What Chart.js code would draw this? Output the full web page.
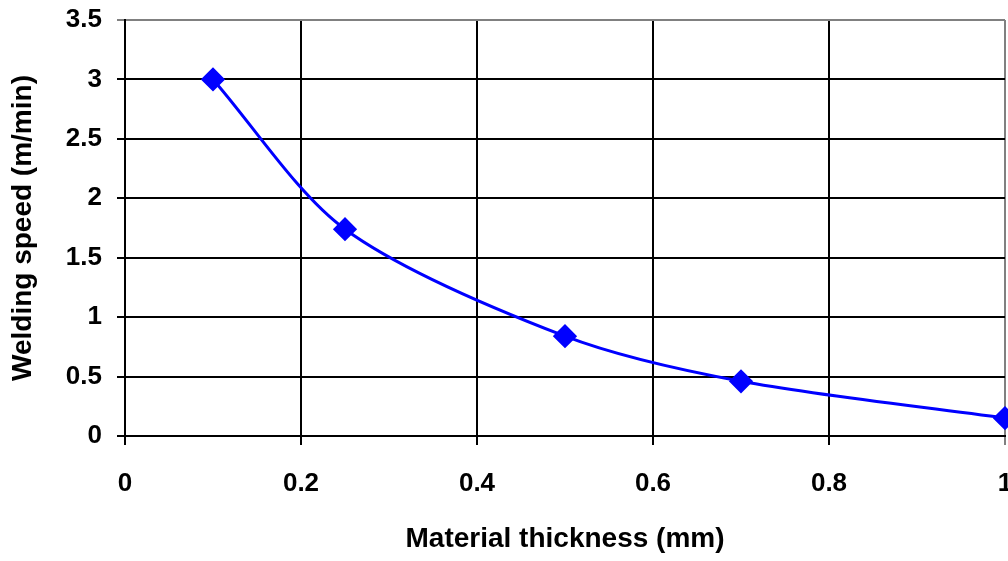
<!DOCTYPE html>
<html>
<head>
<meta charset="utf-8">
<script src="https://cdn.jsdelivr.net/npm/chart.js@4/dist/chart.umd.min.js"></script>
<style>
  body { margin: 0; background: #fff; }
  /* the canvas is a little wider than the frame so the last x label and marker run off the edge */
  #wrap { width: 1008px; height: 561px; overflow: hidden; }
  #speed_chart { display: block; }
</style>
</head>
<body>
<div id="wrap"><canvas id="speed_chart" width="1018" height="561"></canvas></div>
<script>
// thickness (mm) vs welding speed (m/min)
const thickness = [0.1, 0.25, 0.5, 0.7, 1.0];
const speed = [3.0, 1.74, 0.84, 0.46, 0.15];
const xTicks = [0, 0.2, 0.4, 0.6, 0.8, 1];
const yTicks = [0, 0.5, 1, 1.5, 2, 2.5, 3, 3.5];

const points = thickness.map(function(t, i) { return { x: t, y: speed[i] }; });
const tickFont = { family: "'Liberation Sans', Arial, sans-serif", size: 26, weight: 'bold' };
const titleFont = { family: "'Liberation Sans', Arial, sans-serif", size: 28, weight: 'bold' };

const ctx = document.getElementById('speed_chart').getContext('2d');
const speedChart = new Chart(ctx, {
    type: 'line',
    data: {
        datasets: [{
            label: 'Welding speed',
            data: points,
            borderColor: '#0000ff',
            backgroundColor: '#0000ff',
            borderWidth: 3,
            pointStyle: 'rectRot',
            pointRadius: 10,
            pointHoverRadius: 10,
            tension: 0.3,
            clip: false
        }]
    },
    options: {
        responsive: false,
        animation: false,
        layout: { padding: { top: 20, right: 0, left: 0, bottom: 0 } },
        plugins: {
            legend: { display: false },
            tooltip: { enabled: false }
        },
        scales: {
            x: {
                type: 'linear',
                min: 0,
                max: 1,
                afterBuildTicks: function(scale) {
                    scale.ticks = xTicks.map(function(v) { return { value: v }; });
                },
                afterFit: function(scale) {
                    scale.height = 125;
                    scale.paddingLeft = 0;
                    scale.paddingRight = 0;
                },
                ticks: {
                    color: '#000',
                    font: tickFont,
                    padding: 23,
                    maxRotation: 0,
                    callback: function(v) { return String(v); }
                },
                grid: {
                    color: function(c) { return c.tick && c.tick.value === 1 ? '#808080' : '#000'; },
                    lineWidth: 2,
                    tickLength: 9
                },
                border: { color: '#000', width: 2 },
                title: {
                    display: true,
                    text: 'Material thickness (mm)',
                    color: '#000',
                    font: titleFont,
                    padding: { top: 0, bottom: 5 }
                }
            },
            y: {
                type: 'linear',
                min: 0,
                max: 3.5,
                afterBuildTicks: function(scale) {
                    scale.ticks = yTicks.map(function(v) { return { value: v }; });
                },
                afterFit: function(scale) {
                    scale.width = 125;
                    scale.paddingTop = 0;
                    scale.paddingBottom = 0;
                },
                ticks: {
                    color: '#000',
                    font: tickFont,
                    padding: 15,
                    callback: function(v) { return String(v); }
                },
                grid: {
                    color: function(c) { return c.tick && c.tick.value === 3.5 ? '#808080' : '#000'; },
                    lineWidth: 2,
                    tickLength: 8
                },
                border: { color: '#000', width: 2 },
                title: {
                    display: true,
                    text: 'Welding speed (m/min)',
                    color: '#000',
                    font: titleFont,
                    padding: { top: 6, bottom: 0 }
                }
            }
        }
    }
});
</script>
</body>
</html>
